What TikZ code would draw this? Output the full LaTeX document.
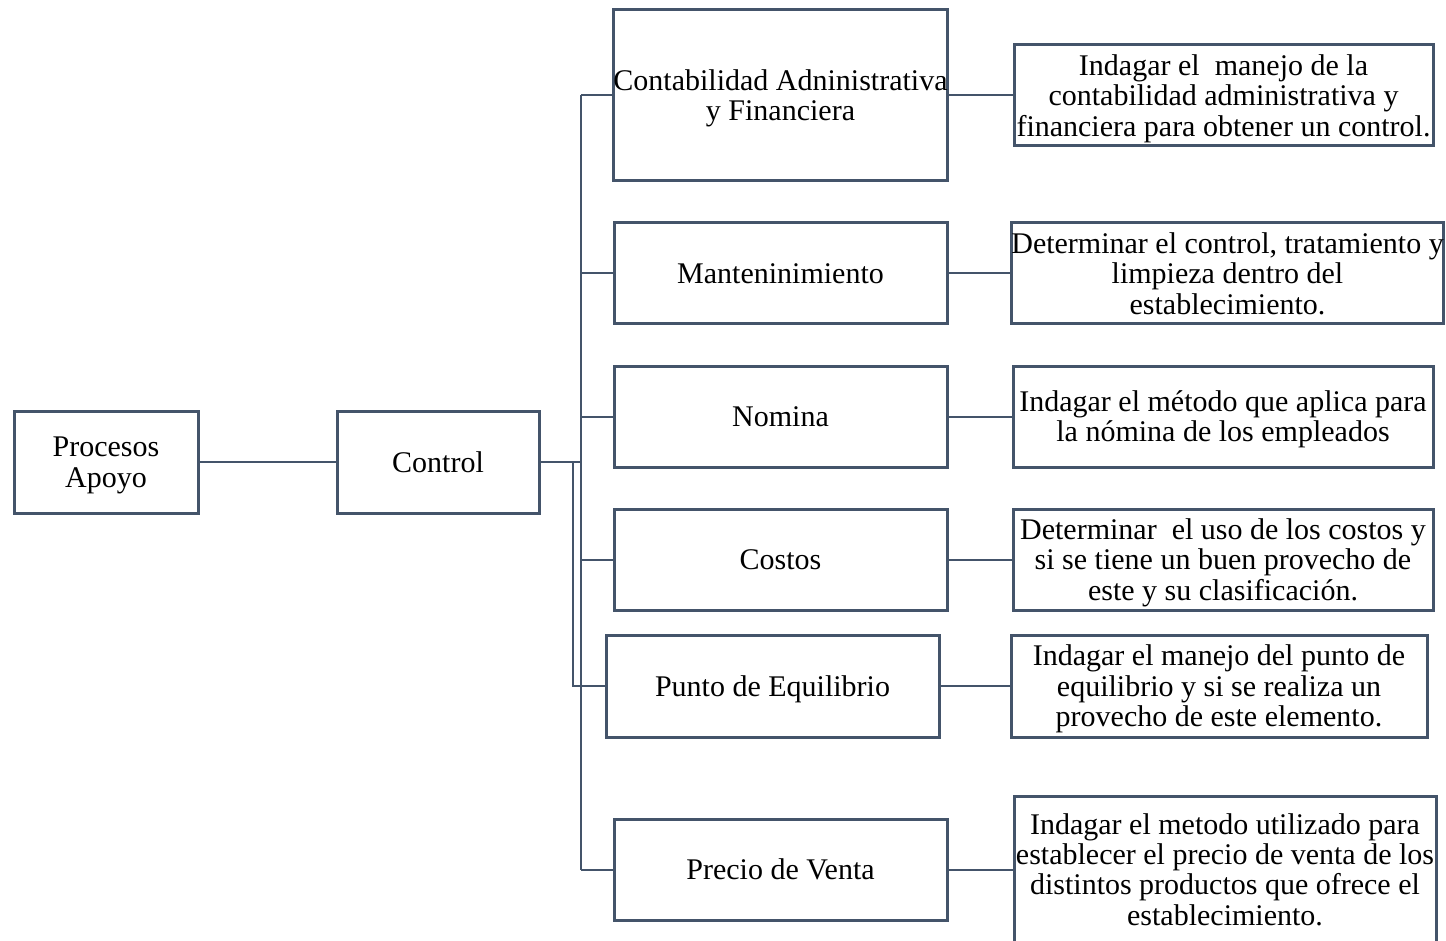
\documentclass[tikz,border=0pt]{standalone}
\usepackage{fontspec}
\setmainfont{Liberation Serif}
\definecolor{boxline}{HTML}{44546A}
% line strut: same ascent and descent on every first and last line
\newcommand{\ls}{\rule[-4.86pt]{0pt}{24.91pt}}
\begin{document}
\begin{tikzpicture}[x=0.75pt,y=-0.75pt,
  box/.style 2 args={draw=boxline, line width=2.25pt, rectangle, inner sep=0pt,
    minimum width=#1*0.75pt, minimum height=#2*0.75pt, align=center,
    font=\fontsize{22.5}{22.8}\selectfont, execute at end node=\ls},
  link/.style={draw=boxline, line width=1.5pt}]
\useasboundingbox (0,0) rectangle (1446,941);

% left column
\node[box={184}{102}] (pa) at (106,462) {\ls Procesos\\Apoyo};
\node[box={202}{102}] (ctl) at (438,462) {\ls Control};

% middle column
\node[box={333}{171}] (m1) at (780.5,95.5) {\ls Contabilidad Adninistrativa\\y Financiera};
\node[box={333}{101}] (m2) at (780.5,273.5) {\ls Manteninimiento};
\node[box={333}{101}] (m3) at (780.5,416.5) {\ls Nomina};
\node[box={333}{101}] (m4) at (780.5,559.5) {\ls Costos};
\node[box={333}{102}] (m5) at (772.5,686) {\ls Punto de Equilibrio};
\node[box={333}{101}] (m6) at (780.5,869.5) {\ls Precio de Venta};

% right column
\node[box={419}{101}] (r1) at (1223.5,95.5) {\ls Indagar el \ manejo de la\\contabilidad administrativa y\\financiera para obtener un control.};
\node[box={429}{101}] (r2) at (1227.5,273.5) {\ls Determinar el control, tratamiento y\\limpieza dentro del\\establecimiento.};
\node[box={420}{101}] (r3) at (1223,416.5) {\ls Indagar el método que aplica para\\la nómina de los empleados};
\node[box={420}{101}] (r4) at (1223,559.5) {\ls Determinar \ el uso de los costos y\\si se tiene un buen provecho de\\este y su clasificación.};
\node[box={416}{102}] (r5) at (1219,686) {\ls Indagar el manejo del punto de\\equilibrio y si se realiza un\\provecho de este elemento.};
\node[box={422}{146}] (r6) at (1225,869.5) {\ls Indagar el metodo utilizado para\\establecer el precio de venta de los\\distintos productos que ofrece el\\establecimiento.};

% trunk coordinates
\coordinate (tj) at (581,462);
\coordinate (tt) at (581,95.5);
\coordinate (tb) at (581,869.5);
\coordinate (sj) at (573,462);
\coordinate (sb) at (573,686);

\draw[link] (pa.east) -- (ctl.west);
\draw[link] (ctl.east) -- (tj);
\draw[link] (tt) -- (tb);
\draw[link] (tt) -- (m1.west);
\draw[link] (m2.west -| tt) -- (m2.west);
\draw[link] (m3.west -| tt) -- (m3.west);
\draw[link] (m4.west -| tt) -- (m4.west);
\draw[link] (tb) -- (m6.west);
\draw[link] (sj) -- (sb) -- (m5.west);

\draw[link] (m1.east) -- (r1.west);
\draw[link] (m2.east) -- (r2.west);
\draw[link] (m3.east) -- (r3.west);
\draw[link] (m4.east) -- (r4.west);
\draw[link] (m5.east) -- (r5.west);
\draw[link] (m6.east) -- (m6.east -| r6.west);
\end{tikzpicture}
\end{document}
